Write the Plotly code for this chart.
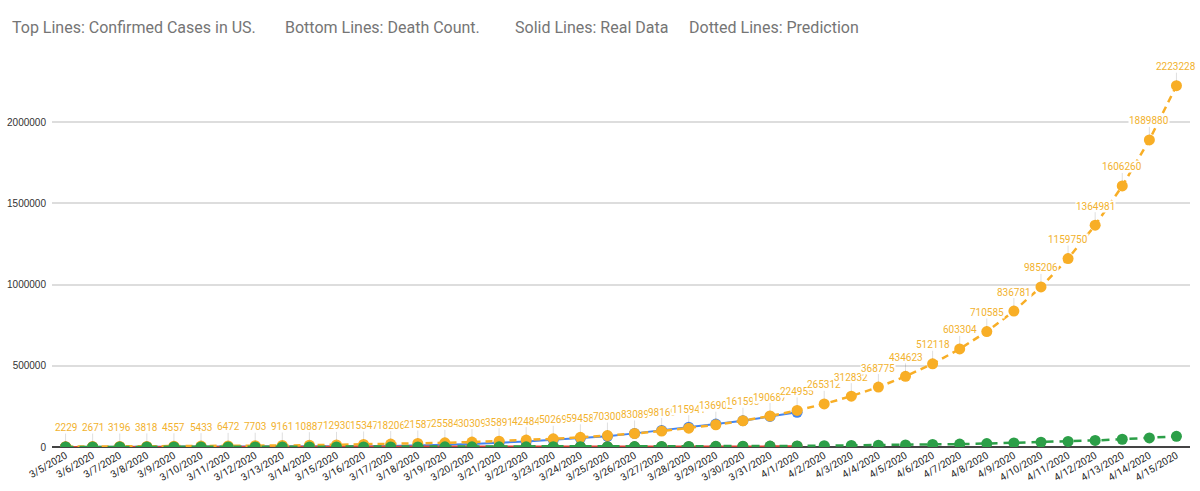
import plotly.graph_objects as go

dates = ["3/5/2020", "3/6/2020", "3/7/2020", "3/8/2020", "3/9/2020", "3/10/2020", "3/11/2020",
         "3/12/2020", "3/13/2020", "3/14/2020", "3/15/2020", "3/16/2020", "3/17/2020", "3/18/2020",
         "3/19/2020", "3/20/2020", "3/21/2020", "3/22/2020", "3/23/2020", "3/24/2020", "3/25/2020",
         "3/26/2020", "3/27/2020", "3/28/2020", "3/29/2020", "3/30/2020", "3/31/2020", "4/1/2020",
         "4/2/2020", "4/3/2020", "4/4/2020", "4/5/2020", "4/6/2020", "4/7/2020", "4/8/2020",
         "4/9/2020", "4/10/2020", "4/11/2020", "4/12/2020", "4/13/2020", "4/14/2020", "4/15/2020"]

# Real data (solid lines) 3/5 .. 4/1
real_cases = [217, 262, 402, 518, 583, 959, 1281, 1663, 2179, 2726, 3499, 4632, 6421, 7786,
              13680, 19101, 25493, 33276, 43847, 53740, 65778, 83836, 101657, 121478, 140886,
              161807, 188172, 213372]
real_deaths = [12, 14, 17, 21, 22, 28, 36, 40, 47, 54, 63, 85, 108, 118, 200, 244, 307, 427,
               552, 706, 942, 1209, 1581, 2026, 2467, 2978, 3873, 4757]

# Predictions (dotted lines) 3/5 .. 4/15
pred_cases = [2229, 2671, 3196, 3818, 4557, 5433, 6472, 7703, 9161, 10887, 12930, 15347, 18206,
              21587, 25584, 30309, 35891, 42484, 50269, 59458, 70300, 83089, 98169, 115941,
              136902, 161593, 190687, 224955, 265312, 312832, 368775, 434623, 512118, 603304,
              710585, 836781, 985206, 1159750, 1364981, 1606260, 1889880, 2223228]
pred_deaths = [85, 100, 118, 139, 163, 192, 225, 265, 315, 370, 430, 510, 600, 700, 825, 970,
               1140, 1340, 1580, 1860, 2180, 2570, 3020, 3550, 4200, 4900, 5800, 6800, 8000,
               9400, 11100, 13000, 15300, 18000, 21200, 24900, 29300, 34500, 40600, 47700,
               56100, 66000]

title_parts = ["Top Lines: Confirmed Cases in US.", "Bottom Lines: Death Count.",
               "Solid Lines: Real Data", "Dotted Lines: Prediction"]
title_px = [10, 283, 513, 687]  # pixel x of each title part

BLUE = "#4285f4"
RED = "#db4437"
ORANGE = "#f8ae26"
GREEN = "#2c9f48"
LABEL = "#f2b22e"

W, H = 1200, 491
ML, MT = 52, 57
MR = W - 1190
MB = H - 447
PW = W - ML - MR
PH = H - MT - MB

fig = go.Figure()
fig.add_trace(go.Scatter(x=dates[:len(real_cases)], y=real_cases, mode="lines+markers",
                         line=dict(color=BLUE, width=2), marker=dict(size=11, color=BLUE),
                         name="Real cases"))
fig.add_trace(go.Scatter(x=dates[:len(real_deaths)], y=real_deaths, mode="lines+markers",
                         line=dict(color=RED, width=2), marker=dict(size=11, color=RED),
                         name="Real deaths"))
fig.add_trace(go.Scatter(x=dates, y=pred_cases, mode="lines+markers",
                         line=dict(color=ORANGE, width=2.5, dash="7px,5px"),
                         marker=dict(size=11, color=ORANGE), name="Predicted cases"))
fig.add_trace(go.Scatter(x=dates, y=pred_deaths, mode="lines+markers",
                         line=dict(color=GREEN, width=2.5, dash="8px,6px"),
                         marker=dict(size=11, color=GREEN), name="Predicted deaths"))

annotations = []
for d, v in zip(dates, pred_cases):
    annotations.append(dict(x=d, y=v, xref="x", yref="y", text=str(v), showarrow=True,
                            arrowhead=0, arrowwidth=1, arrowcolor="rgba(0,0,0,0.12)",
                            ax=0, ay=-19, standoff=5, bgcolor="white", borderpad=0,
                            font=dict(family="Roboto", size=10, color=LABEL)))
for t, px in zip(title_parts, title_px):
    annotations.append(dict(x=(px - ML) / PW, y=(H - MB - 27) / PH,
                            xref="paper", yref="paper", text=t, showarrow=False,
                            xanchor="left", yanchor="middle",
                            font=dict(family="Roboto", size=16, color="#757575")))

fig.update_layout(
    width=W, height=H,
    margin=dict(l=ML, r=MR, t=MT, b=MB),
    paper_bgcolor="white", plot_bgcolor="white",
    showlegend=False,
    annotations=annotations,
    xaxis=dict(type="category", range=[-0.5, len(dates) - 0.5], showgrid=False,
               showline=False, zeroline=False, tickangle=-30, automargin=False,
               tickfont=dict(family="Roboto", size=10, color="#222222"), ticks=""),
    yaxis=dict(range=[0, 2400000], tickvals=[0, 500000, 1000000, 1500000, 2000000],
               tickformat="d", showgrid=True, gridcolor="#dddddd", gridwidth=1.5,
               zeroline=True, zerolinecolor="#444444", zerolinewidth=1.5,
               showline=False, automargin=False, ticks="", ticklabelstandoff=5,
               tickfont=dict(family="Liberation Sans", size=10, color="#333333")),
)

fig.write_html("out.html",
               config={"displayModeBar": False},
               post_script="document.body.style.margin='0';document.body.style.overflow='hidden';")
